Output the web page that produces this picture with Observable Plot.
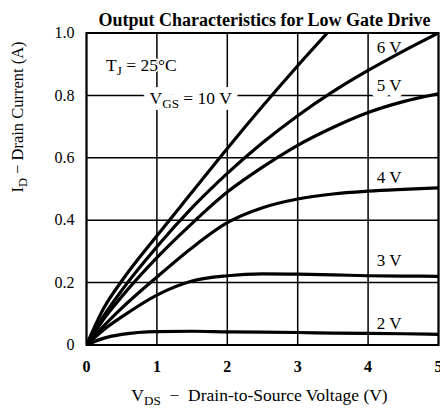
<!DOCTYPE html>
<html><head><meta charset="utf-8">
<script src="https://cdn.jsdelivr.net/npm/d3@7"></script>
<script src="https://cdn.jsdelivr.net/npm/@observablehq/plot@0.6"></script>
<style>
body{margin:0;background:#fff}
svg{display:block}
svg [aria-label="x-axis tick label"]{font-weight:bold}
</style>
</head><body><div id="chart"></div>
<script>
// ---- data ----
const xTicks = [0, 1, 2, 3, 4, 5];
const yTicks = [0, 0.2, 0.4, 0.6, 0.8, 1.0];
const yTickLabels = ["0", "0.2", "0.4", "0.6", "0.8", "1.0"];

const vds   = [0, 0.25, 0.5, 1, 1.5, 2, 2.5, 3, 3.5, 4, 4.5, 5];
const vds10 = [0, 0.25, 0.5, 1, 1.5, 2, 2.5, 3, 3.42];
const id10V = [0, 0.12, 0.205, 0.35, 0.49, 0.63, 0.765, 0.895, 1.0];
const id6V  = [0, 0.095, 0.175, 0.315, 0.44, 0.55, 0.648, 0.735, 0.812, 0.88, 0.942, 1.0];
const id5V  = [0, 0.085, 0.155, 0.28, 0.39, 0.49, 0.57, 0.64, 0.697, 0.745, 0.78, 0.805];
const id4V  = [0, 0.062, 0.118, 0.218, 0.312, 0.392, 0.44, 0.468, 0.484, 0.493, 0.499, 0.504];
const id3V  = [0, 0.05, 0.09, 0.16, 0.205, 0.222, 0.228, 0.227, 0.225, 0.222, 0.221, 0.22];
const id2V  = [0, 0.022, 0.034, 0.043, 0.044, 0.042, 0.041, 0.04, 0.038, 0.037, 0.036, 0.034];

const curveLabels = ["6 V", "5 V", "4 V", "3 V", "2 V"];
const curveLabelX = [4.3, 4.3, 4.3, 4.3, 4.3];
const curveLabelY = [0.953, 0.832, 0.537, 0.271, 0.069];

const titleText = "Output Characteristics for Low Gate Drive";
const xLabel = "V_{DS}  −  Drain-to-Source Voltage (V)";
const yLabel = "I_{D} − Drain Current (A)";
const tjLabel = "T_{J} = 25°C";
const vgsLabel = "V_{GS} = 10 V";

// ---- build ----
const series = [];
vds10.forEach((x, i) => series.push({vgs: "10 V", x, y: id10V[i]}));
[["6 V", id6V], ["5 V", id5V], ["4 V", id4V], ["3 V", id3V], ["2 V", id2V]].forEach(([k, arr]) =>
  vds.forEach((x, i) => series.push({vgs: k, x, y: arr[i]})));
const labels = curveLabels.map((t, i) => ({t, x: curveLabelX[i], y: curveLabelY[i]}));

const font = "Liberation Serif, Times New Roman, serif";

const chart = Plot.plot({
  width: 440,
  height: 411,
  marginLeft: 86,
  marginRight: 2,
  marginTop: 32.5,
  marginBottom: 66.5,
  style: {fontFamily: font, fontSize: "16px", color: "black", background: "white"},
  x: {domain: [0, 5], ticks: xTicks},
  y: {domain: [0, 1], ticks: yTicks},
  marks: [
    Plot.gridX(xTicks, {stroke: "black", strokeOpacity: 1, strokeWidth: 1.5}),
    Plot.gridY(yTicks, {stroke: "black", strokeOpacity: 1, strokeWidth: 1.5}),
    Plot.text(labels, {x: "x", y: "y", text: "t", fontSize: 17, lineAnchor: "middle", fill: "black", stroke: "white", strokeWidth: 14}),
    Plot.text([vgsLabel], {x: 1.48, y: 0.79, text: d => d, fontSize: 17.5, lineAnchor: "middle", fill: "black", stroke: "white", strokeWidth: 12}),
    Plot.text([tjLabel], {x: 0.78, y: 0.896, text: d => d, fontSize: 17.5, lineAnchor: "middle", fill: "black", stroke: "white", strokeWidth: 3}),
    Plot.line(series, {x: "x", y: "y", z: "vgs", stroke: "black", strokeWidth: 3.2, curve: "monotone-x", clip: true}),
    Plot.frame({stroke: "black", strokeWidth: 2}),
    Plot.axisX({ticks: xTicks, tickSize: 0, tickPadding: 16, fontSize: 16, tickFormat: d => String(d), label: null}),
    Plot.axisY({ticks: yTicks, tickSize: 0, tickPadding: 12, fontSize: 16, tickFormat: d => yTickLabels[yTicks.indexOf(d)], label: null}),
    Plot.text([titleText], {frameAnchor: "top", lineAnchor: "middle", text: d => d, dy: -12.5, dx: 2, fontSize: 18, fontWeight: "bold", fill: "black"}),
    Plot.text([xLabel], {frameAnchor: "bottom", lineAnchor: "middle", text: d => d, dy: 50.5, dx: -3, fontSize: 17.5, fill: "black"}),
    Plot.text([yLabel], {frameAnchor: "left", lineAnchor: "middle", text: d => d, dx: -69, dy: 3.5, rotate: -90, fontSize: 16.5, fill: "black"})
  ]
});

// subscripts
chart.querySelectorAll("text").forEach(t => {
  const s = t.textContent;
  if (!/_\{/.test(s)) return;
  while (t.firstChild) t.removeChild(t.firstChild);
  const parts = s.split(/_\{([^}]*)\}/);
  let shifted = false;
  parts.forEach((p, i) => {
    if (p === "") return;
    const ts = document.createElementNS("http://www.w3.org/2000/svg", "tspan");
    ts.textContent = p;
    if (i % 2 === 1) {
      ts.setAttribute("font-size", "75%");
      ts.setAttribute("dy", "4");
      shifted = true;
    } else if (shifted) {
      ts.setAttribute("dy", "-4");
      shifted = false;
    }
    t.appendChild(ts);
  });
});

document.getElementById("chart").appendChild(chart);
</script>
</body></html>
